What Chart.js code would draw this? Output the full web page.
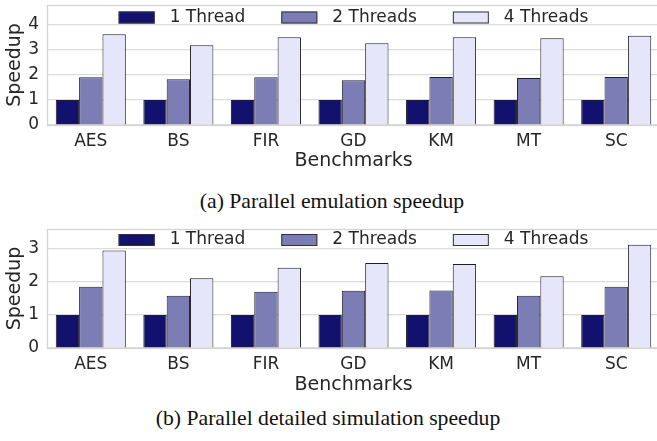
<!DOCTYPE html>
<html>
<head>
<meta charset="utf-8">
<script src="https://cdn.jsdelivr.net/npm/chart.js@4/dist/chart.umd.min.js"></script>
<style>
  html, body { margin: 0; padding: 0; background: #fff; overflow: hidden; width: 657px; height: 441px; }
  .plot { position: absolute; left: 0; }
  .cap { position: absolute; left: 0; width: 664px; text-align: center; font-family: "Liberation Serif", serif; font-size: 21.7px; color: #111; white-space: nowrap; line-height: 1; }
</style>
</head>
<body>
<div class="plot" style="top:0px"><canvas id="emu" width="664" height="172"></canvas></div>
<div class="cap" style="top:191px">(a) Parallel emulation speedup</div>
<div class="plot" style="top:224px"><canvas id="sim" width="664" height="172"></canvas></div>
<div class="cap" style="top:408px; width:656px">(b) Parallel detailed simulation speedup</div>

<script>
// benchmarks and series
const benchmarks = ["AES", "BS", "FIR", "GD", "KM", "MT", "SC"];
const seriesNames = ["1 Thread", "2 Threads", "4 Threads"];

// (a) emulation speedup
const emu1 = [1, 1, 1, 1, 1, 1, 1];
const emu2 = [1.91, 1.83, 1.91, 1.79, 1.92, 1.88, 1.92];
const emu4 = [3.63, 3.19, 3.51, 3.27, 3.51, 3.47, 3.57];

// (b) detailed simulation speedup
const sim1 = [1, 1, 1, 1, 1, 1, 1];
const sim2 = [1.85, 1.58, 1.70, 1.73, 1.74, 1.58, 1.85];
const sim4 = [2.95, 2.11, 2.43, 2.57, 2.54, 2.17, 3.12];

const colors = ["#12126e", "#7b7db4", "#e6e6fa"];
const ink = "#262626";

Chart.defaults.font.family = "'DejaVu Sans', sans-serif";
Chart.defaults.font.size = 17;
Chart.defaults.color = ink;

// frame (all four spines) + legend inside the axes, like the matplotlib original
const frameAndLegend = {
  id: "frameAndLegend",
  afterDatasetsDraw(chart) {
    const { ctx, chartArea: a } = chart;
    ctx.save();
    ctx.strokeStyle = "#d4d4d4";
    ctx.lineWidth = 1.3;
    ctx.strokeRect(a.left + 0.5, a.top + 0.5, a.right - a.left, a.bottom - a.top);
    ctx.restore();
  },
  afterDraw(chart, args, opts) {
    const { ctx, chartArea: a } = chart;
    const ds = chart.data.datasets;
    const bw = 36, bh = 12, gap = 15, space = 36;
    ctx.save();
    ctx.font = "17px 'DejaVu Sans', sans-serif";
    const widths = ds.map(d => bw + gap + ctx.measureText(d.label).width);
    const total = widths.reduce((s, w) => s + w, 0) + space * (ds.length - 1);
    let x = (a.left + a.right) / 2 - total / 2;
    const cy = a.top + opts.offset;
    ds.forEach((d, i) => {
      ctx.fillStyle = d.backgroundColor;
      ctx.fillRect(x, cy - bh / 2, bw, bh);
      ctx.strokeStyle = "#333";
      ctx.lineWidth = 1;
      ctx.strokeRect(x + 0.5, cy - bh / 2 + 0.5, bw - 1, bh - 1);
      ctx.fillStyle = ink;
      ctx.textBaseline = "middle";
      ctx.textAlign = "left";
      ctx.fillText(d.label, x + bw + gap, cy);
      x += widths[i] + space;
    });
    ctx.restore();
  }
};

function makeChart(id, s1, s2, s4, ymax, areaH, legendOffset) {
  const values = [s1, s2, s4];
  new Chart(document.getElementById(id), {
    type: "bar",
    data: {
      labels: benchmarks,
      datasets: seriesNames.map((name, i) => ({
        label: name,
        data: values[i],
        backgroundColor: colors[i],
        borderColor: "#1e1e1e",
        borderWidth: 1,
        categoryPercentage: 0.8,
        barPercentage: 1.0
      }))
    },
    options: {
      responsive: false,
      animation: false,
      layout: { padding: { top: 5, right: 4, left: 0, bottom: 0 } },
      plugins: {
        legend: { display: false },
        tooltip: { enabled: false },
        frameAndLegend: { offset: legendOffset }
      },
      scales: {
        x: {
          grid: { display: false },
          border: { display: false },
          ticks: { padding: -2, autoSkip: false, maxRotation: 0, color: ink },
          title: { display: true, text: "Benchmarks", font: { size: 19, lineHeight: 1.1 }, color: ink, padding: { top: 0, bottom: 0 } },
          afterFit: (s) => { s.height = 172 - 5 - areaH; s.paddingLeft = 0; s.paddingRight = 0; }
        },
        y: {
          min: 0,
          max: ymax,
          grid: { color: "#dcdcdc", lineWidth: 1.2, drawTicks: false },
          border: { display: false },
          ticks: { stepSize: 1, includeBounds: false, padding: 8, color: ink },
          title: { display: true, text: "Speedup", font: { size: 19 }, color: ink, padding: { top: 4, bottom: 0 } },
          afterFit: (s) => { s.width = 47; s.paddingTop = 0; s.paddingBottom = 0; }
        }
      }
    },
    plugins: [frameAndLegend]
  });
}

makeChart("emu", emu1, emu2, emu4, 4.8, 120, 12.5);
makeChart("sim", sim1, sim2, sim4, 3.6, 119, 11);
</script>
</body>
</html>
